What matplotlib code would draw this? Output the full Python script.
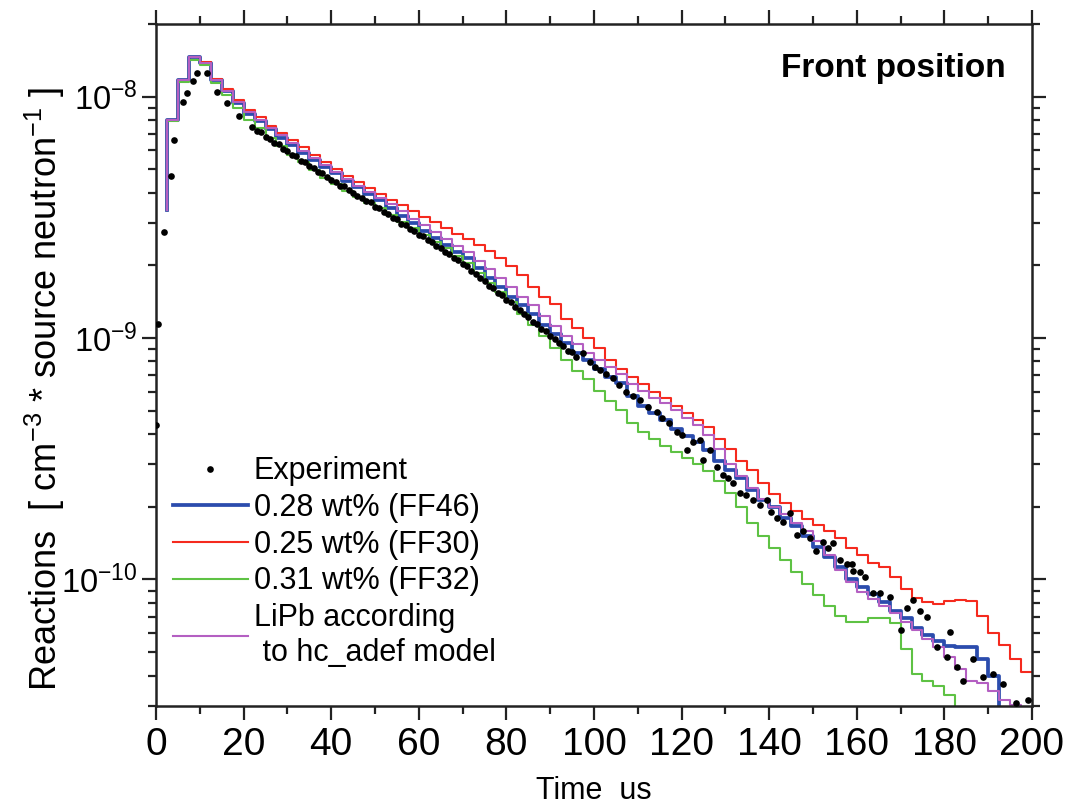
import matplotlib
matplotlib.use("Agg")
import matplotlib.pyplot as plt
from matplotlib.ticker import (LogLocator, MultipleLocator, NullFormatter, FuncFormatter,
                               FixedLocator)
import numpy as np

# Right edges of the 2.5 us time bins and log10 of the simulated reaction rate per bin
bin_end = [2.5 * k for k in range(1, 81)]

ff46_log = [-8.470, -8.095, -7.929, -7.835, -7.860, -7.930, -7.978, -8.025, -8.070, -8.100,
            -8.135, -8.170, -8.200, -8.235, -8.262, -8.290, -8.318, -8.350, -8.375, -8.405,
            -8.430, -8.460, -8.495, -8.525, -8.555, -8.585, -8.615, -8.645, -8.670, -8.710,
            -8.750, -8.790, -8.830, -8.865, -8.900, -8.945, -8.985, -9.020, -9.060, -9.090,
            -9.130, -9.160, -9.185, -9.240, -9.280, -9.310, -9.340, -9.375, -9.405, -9.430,
            -9.465, -9.510, -9.545, -9.580, -9.630, -9.670, -9.700, -9.745, -9.780, -9.820,
            -9.865, -9.905, -9.950, -10.000, -10.030, -10.060, -10.095, -10.130, -10.160, -10.200,
            -10.230, -10.255, -10.275, -10.280, -10.280, -10.330, -10.400, -10.600, -10.700, -10.750]

ff30_log = [-8.470, -8.095, -7.929, -7.835, -7.855, -7.925, -7.970, -8.015, -8.055, -8.085,
            -8.120, -8.150, -8.180, -8.210, -8.240, -8.270, -8.300, -8.330, -8.355, -8.380,
            -8.405, -8.430, -8.450, -8.475, -8.500, -8.520, -8.545, -8.570, -8.590, -8.615,
            -8.640, -8.670, -8.700, -8.740, -8.790, -8.830, -8.860, -8.920, -8.960, -9.000,
            -9.040, -9.090, -9.130, -9.160, -9.190, -9.225, -9.250, -9.280, -9.310, -9.340,
            -9.370, -9.420, -9.460, -9.510, -9.545, -9.600, -9.645, -9.685, -9.715, -9.750,
            -9.775, -9.800, -9.830, -9.870, -9.900, -9.930, -9.950, -9.990, -10.040, -10.075,
            -10.095, -10.100, -10.090, -10.085, -10.090, -10.150, -10.220, -10.270, -10.330, -10.385]

ff32_log = [-8.470, -8.100, -7.940, -7.850, -7.870, -7.945, -7.995, -8.045, -8.095, -8.130,
            -8.170, -8.205, -8.240, -8.270, -8.305, -8.335, -8.360, -8.390, -8.415, -8.440,
            -8.460, -8.490, -8.520, -8.545, -8.575, -8.600, -8.625, -8.660, -8.690, -8.730,
            -8.770, -8.810, -8.850, -8.900, -8.945, -8.990, -9.040, -9.090, -9.135, -9.170,
            -9.220, -9.260, -9.300, -9.350, -9.390, -9.420, -9.445, -9.470, -9.495, -9.520,
            -9.550, -9.590, -9.640, -9.700, -9.765, -9.820, -9.870, -9.920, -9.970, -10.020,
            -10.065, -10.110, -10.150, -10.175, -10.175, -10.160, -10.160, -10.180, -10.290, -10.390,
            -10.420, -10.440, -10.480, -10.530, -10.600, -10.700, -10.750, -10.800, -10.850, -10.900]

lipb_log = [-8.470, -8.095, -7.929, -7.835, -7.860, -7.930, -7.975, -8.020, -8.065, -8.095,
            -8.130, -8.160, -8.190, -8.225, -8.255, -8.285, -8.310, -8.340, -8.370, -8.395,
            -8.420, -8.445, -8.475, -8.505, -8.530, -8.560, -8.590, -8.620, -8.645, -8.680,
            -8.715, -8.750, -8.790, -8.830, -8.865, -8.910, -8.950, -8.990, -9.025, -9.060,
            -9.090, -9.120, -9.150, -9.190, -9.220, -9.250, -9.270, -9.300, -9.330, -9.360,
            -9.400, -9.460, -9.520, -9.570, -9.620, -9.665, -9.700, -9.730, -9.765, -9.800,
            -9.840, -9.900, -9.960, -10.010, -10.050, -10.080, -10.110, -10.140, -10.175, -10.210,
            -10.245, -10.280, -10.320, -10.370, -10.420, -10.430, -10.460, -10.500, -10.520, -10.550]

# Measured activation data: time (us) and log10 of reactions
exp_t = [0.0, 0.5, 1.8, 3.4, 4.0, 6.1, 7.0, 8.5, 9.3, 11.6, 14.0, 16.1, 19.0, 21.8,
         23, 24, 25, 26, 27, 28, 29, 30, 31, 32, 33, 34, 35, 36, 37, 38, 39, 40,
         41, 42, 43, 44, 45, 46, 47, 48, 49, 50, 51, 52, 53, 54, 55, 56, 57, 58,
         59, 60, 61, 62, 63, 64, 65, 66, 67, 68, 69, 70, 71, 72, 73, 74, 75, 76,
         77, 78, 79, 80, 81, 82, 83, 84, 85, 86, 87, 88, 89, 90, 91, 92, 93, 94,
         95, 96, 97.5, 99.0, 100.2, 101.4, 102.8, 104.3, 105.8, 107.4, 108.9, 110.5,
         112.4, 114.3, 115.6, 117.2, 118.9, 120.0, 121.2, 122.6, 124.2, 124.9, 126.5,
         128.0, 129.5, 130.6, 131.8, 133.3, 134.8, 136.4, 137.8, 139.4, 140.5, 141.7,
         143.2, 144.7, 146.3, 147.8, 149.3, 150.8, 152.3, 153.5, 154.6, 156.2, 157.7,
         158.8, 159.1, 160.7, 161.9, 163.7, 165.2, 167.6, 170.0, 171.4, 172.8, 174.4,
         176.0, 178.2, 180.5, 181.3, 182.8, 184.3, 186.6, 188.8, 191.1, 193.4, 196.3,
         199.1]
exp_log = [-9.36, -8.94, -8.56, -8.33, -8.18, -8.02, -7.985, -7.936, -7.902, -7.902,
           -7.982, -8.026, -8.08, -8.127,
           -8.142, -8.148, -8.168, -8.176, -8.192, -8.198, -8.217, -8.226, -8.243, -8.247,
           -8.268, -8.272, -8.288, -8.297, -8.312, -8.318, -8.333, -8.344, -8.352, -8.368,
           -8.371, -8.388, -8.398, -8.412, -8.418, -8.433, -8.437, -8.456, -8.462, -8.478,
           -8.486, -8.503, -8.508, -8.527, -8.532, -8.548, -8.556, -8.572, -8.577, -8.593,
           -8.602, -8.618, -8.626, -8.643, -8.652, -8.668, -8.677, -8.693, -8.703, -8.722,
           -8.733, -8.752, -8.762, -8.783, -8.792, -8.812, -8.822, -8.843, -8.852, -8.872,
           -8.883, -8.902, -8.912, -8.933, -8.943, -8.962, -8.972, -8.993, -9.002, -9.022,
           -9.032, -9.052, -9.058, -9.078,
           -9.060, -9.100, -9.118, -9.133, -9.150, -9.166, -9.196, -9.223, -9.240, -9.257,
           -9.285, -9.306, -9.330, -9.352, -9.389, -9.400, -9.462, -9.430, -9.423, -9.506,
           -9.465, -9.534, -9.568, -9.580, -9.602, -9.643, -9.650, -9.672, -9.690, -9.672,
           -9.720, -9.747, -9.760, -9.726, -9.817, -9.800, -9.830, -9.880, -9.845, -9.870,
           -9.850, -9.921, -9.934, -9.934, -9.963, -9.970, -9.990, -10.058, -10.058, -10.073,
           -10.210, -10.120, -10.087, -10.130, -10.156, -10.280, -10.320, -10.219, -10.364,
           -10.419, -10.328, -10.405, -10.390, -10.432, -10.510, -10.500]

# Decade ticks on the reaction axis
y_decades = [1e-10, 1e-9, 1e-8]

series = [
    ("0.28 wt% (FF46)", ff46_log, "#2b4cad", 2.7),
    ("0.25 wt% (FF30)", ff30_log, "#f52a1e", 1.5),
    ("0.31 wt% (FF32)", ff32_log, "#5ec244", 1.5),
    ("LiPb according\n to hc_adef model", lipb_log, "#b45fc2", 1.5),
]

plt.rcParams["font.family"] = ["Liberation Sans", "DejaVu Sans"]
plt.rcParams["mathtext.fontset"] = "custom"
plt.rcParams["mathtext.rm"] = "Liberation Sans"
plt.rcParams["mathtext.default"] = "regular"

fig = plt.figure(figsize=(10.65, 8.09), dpi=100)
ax = fig.add_axes([0.1465, 0.1277, 0.8225, 0.8426])

ax.plot(exp_t, 10.0 ** np.array(exp_log), "o", color="black", ms=4.8, mec="none",
        label="Experiment", zorder=5)

for label, vals, color, lw in series:
    ax.step(bin_end, 10.0 ** np.array(vals), where="pre", color=color, lw=lw, label=label)

ax.set_yscale("log")
ax.set_xlim(0, 200)
ax.set_ylim(3e-11, 2e-8)

ax.xaxis.set_major_locator(MultipleLocator(20))
ax.xaxis.set_minor_locator(MultipleLocator(10))
ax.yaxis.set_major_locator(FixedLocator(y_decades))
ax.yaxis.set_minor_locator(LogLocator(base=10, subs=np.arange(2, 10), numticks=10))
ax.yaxis.set_minor_formatter(NullFormatter())
ax.yaxis.set_major_formatter(FuncFormatter(lambda v, p: r"10$^{%d}$" % round(np.log10(v))))

ax.tick_params(which="both", direction="out", top=True, right=True, width=1.6, color="#222222")
ax.tick_params(which="major", length=10)
ax.tick_params(which="minor", length=6)
ax.tick_params(axis="x", which="major", labelsize=28, pad=5)
ax.tick_params(axis="y", which="major", labelsize=23.5, pad=3)
for s in ax.spines.values():
    s.set_linewidth(1.8)
    s.set_color("#222222")

ax.set_xlabel("Time  us", fontsize=22, labelpad=10)
ax.set_ylabel(r"Reactions  [ cm$^{-3}$ * source neutron$^{-1}$ ]", fontsize=26)
ax.yaxis.set_label_coords(-0.102, 0.465)

ax.text(0.97, 0.935, "Front position", transform=ax.transAxes, ha="right", va="center",
        fontsize=24, fontweight="bold")

leg = ax.legend(loc="upper left", bbox_to_anchor=(0.019, 0.366), frameon=False, fontsize=22,
                handlelength=2.45, handletextpad=0.2, labelspacing=0.22, borderaxespad=0.0,
                borderpad=0.0, markerscale=1.0)

fig.savefig("out.png", dpi=100)
